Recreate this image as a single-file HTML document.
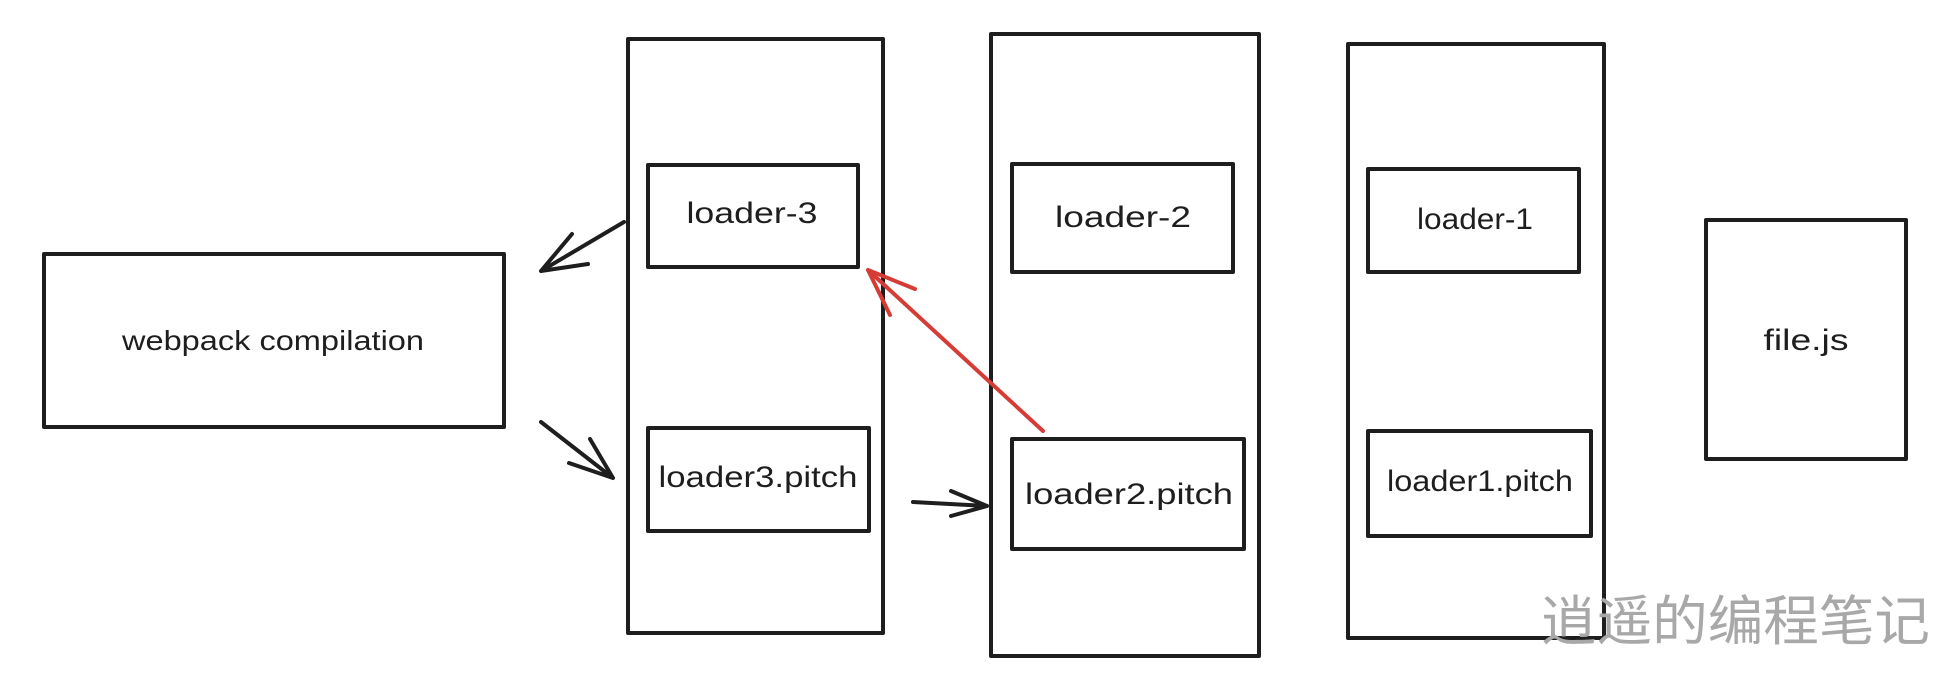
<!DOCTYPE html>
<html><head><meta charset="utf-8"><style>
html,body{margin:0;padding:0;background:#fff;width:1950px;height:674px;overflow:hidden}
svg text{font-family:"Liberation Sans",sans-serif;fill:#1e1e1e}
</style></head><body>
<svg width="1950" height="674" viewBox="0 0 1950 674" xmlns="http://www.w3.org/2000/svg">
<g fill="none" stroke="#1e1e1e" stroke-width="4" stroke-linecap="round" stroke-linejoin="round">
<rect x="44" y="254" width="460" height="173"/>
<rect x="628" y="39" width="255" height="594"/>
<rect x="648" y="165" width="210" height="102"/>
<rect x="648" y="428" width="221" height="103"/>
<rect x="991" y="34" width="268" height="622"/>
<rect x="1012" y="164" width="221" height="108"/>
<rect x="1012" y="439" width="232" height="110"/>
<rect x="1348" y="44" width="256" height="594"/>
<rect x="1368" y="169" width="211" height="103"/>
<rect x="1368" y="431" width="223" height="105"/>
<rect x="1706" y="220" width="200" height="239"/>
<path d="M624 222 L541 271 M572 234 L541 271 L588 264"/>
<path d="M541 422 L613 478 M569 463 L613 478 L590 439"/>
<path d="M913 502 L987 506 M951 491 L987 506 L951 516"/>
</g>
<g fill="none" stroke="#d63c35" stroke-width="4" stroke-linecap="round" stroke-linejoin="round">
<path d="M1043 431 L868 270 M915 289 L868 270 L890 315"/>
</g>
<text x="273" y="350" font-size="28" text-anchor="middle" textLength="302" lengthAdjust="spacingAndGlyphs">webpack compilation</text>
<text x="752" y="223" font-size="30" text-anchor="middle" textLength="131" lengthAdjust="spacingAndGlyphs">loader-3</text>
<text x="758" y="487" font-size="30" text-anchor="middle" textLength="199" lengthAdjust="spacingAndGlyphs">loader3.pitch</text>
<text x="1123" y="227" font-size="30" text-anchor="middle" textLength="136" lengthAdjust="spacingAndGlyphs">loader-2</text>
<text x="1129" y="504" font-size="30" text-anchor="middle" textLength="208" lengthAdjust="spacingAndGlyphs">loader2.pitch</text>
<text x="1475" y="229" font-size="30" text-anchor="middle" textLength="116" lengthAdjust="spacingAndGlyphs">loader-1</text>
<text x="1480" y="491" font-size="30" text-anchor="middle" textLength="186" lengthAdjust="spacingAndGlyphs">loader1.pitch</text>
<text x="1806" y="350" font-size="30" text-anchor="middle" textLength="85" lengthAdjust="spacingAndGlyphs">file.js</text>
<text x="1541" y="640" font-size="54" style="font-family:'Liberation Sans','Noto Sans CJK SC',sans-serif;fill:#a8a8a8" textLength="389" lengthAdjust="spacingAndGlyphs">逍遥的编程笔记</text>
</svg>
</body></html>
